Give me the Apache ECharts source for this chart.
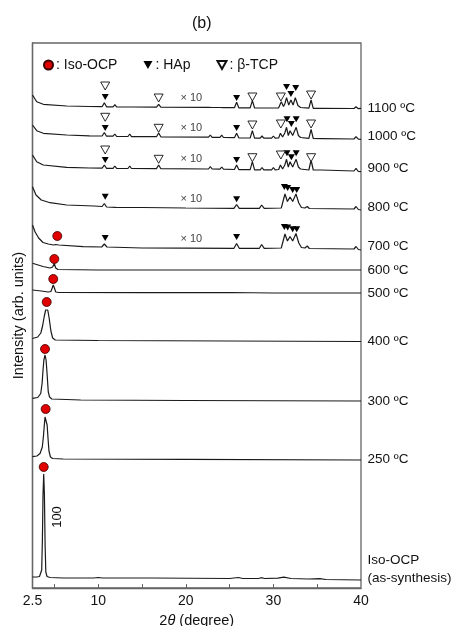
<!DOCTYPE html>
<html>
<head>
<meta charset="utf-8">
<script src="https://cdn.jsdelivr.net/npm/echarts@6/dist/echarts.min.js"></script>
<style>html,body{margin:0;padding:0;background:#fff}#c{width:460px;height:626px}</style>
</head>
<body>
<div id="c"></div>
<script>
// ---- Data (2θ in degree, intensity in arb. units incl. stacking offset) ----
var xTickLabels = [2.5, 10, 20, 30, 40];
var xMajorTicks = [10, 20, 30];
var xMinorTicks = [5, 15, 25, 35];

var traceIsoOCP = [[2.5,11],[3.0,11],[3.3,11.5],[3.45,13],[3.55,18],[3.63,48],[3.70,93],[3.78,114],[3.86,93],[3.94,43],[4.02,16],[4.16,11.5],[4.5,10.5],[6,10],[9.5,10],[10,10.5],[10.5,10],[16,10],[25,9.5],[26,10.5],[26.5,9.5],[28.3,9.5],[28.6,10.3],[29,9.5],[30.5,9.8],[31.2,10.8],[32,9.5],[34,9],[35.3,9.3],[36,8.5],[40,8]];
var trace250 = [[2.5,131.3],[3.0,132],[3.36,134.5],[3.62,141],[3.75,152],[3.85,163],[3.93,171],[4.01,173],[4.09,171],[4.17,163],[4.27,150],[4.38,137],[4.55,131],[4.8,129.5],[6,129],[20,128.7],[40,128]];
var trace300 = [[2.5,189.7],[3.1,190.5],[3.44,194.5],[3.6,205],[3.7,218],[3.8,228],[3.93,233],[4.05,228],[4.15,216],[4.3,196],[4.45,191],[4.7,189],[8,188],[20,187.5],[40,187]];
var trace400 = [[2.5,249.5],[3.1,251],[3.45,255],[3.65,262],[3.85,272],[4.0,278],[4.12,280],[4.24,278],[4.4,270],[4.6,257],[4.8,250],[5.1,248],[10,247.5],[40,246.5]];
var trace500 = [[2.5,298],[3.5,297],[4.3,296],[4.6,296.5],[4.75,300],[4.87,303],[5.0,300],[5.15,296],[5.5,295.5],[15,295.3],[25,295.5],[30,295],[40,295]];
var trace600 = [[2.5,324.7],[3.7,321.5],[4.5,320],[4.8,321],[4.99,324.5],[5.15,320],[5.4,318.5],[10,318],[40,318]];
var trace700 = [[2.5,363],[2.8,356],[3.2,350],[3.7,345.5],[4.3,344],[4.9,343],[5.15,343.5],[5.33,345],[5.5,343],[5.7,342],[8.3,341.3],[10.4,341],[10.7,344],[11.0,341],[15,340],[20,339.8],[25.5,339.7],[25.8,344.5],[26.1,339.7],[28.4,339.7],[28.66,343.5],[28.95,339.7],[30.9,340],[31.1,342],[31.32,354],[31.6,347],[31.9,351.5],[32.2,347],[32.58,354.5],[32.9,345],[33.2,340.5],[33.6,340],[33.87,342],[34.1,339.5],[39.2,339],[39.43,341.5],[39.7,338.5],[40,338]];
var trace800 = [[2.5,401.3],[2.9,393],[3.5,388],[4.5,385.3],[6.4,383],[9.5,382],[10.45,381.5],[10.7,384.5],[10.95,381],[12,380.7],[15,380.5],[20,380],[25.5,379.7],[25.8,383.5],[26.1,379.7],[28.4,379.7],[28.66,383],[28.95,379.7],[30.9,380],[31.1,382],[31.32,394],[31.6,386.5],[31.9,391],[32.2,386.5],[32.58,394],[32.9,385],[33.2,380.5],[33.6,380],[33.87,381.5],[34.1,379.5],[39.2,379],[39.43,381.5],[39.7,378.5],[40,378]];
var trace900 = [[2.5,433],[2.98,426.3],[3.73,423],[6.4,420.7],[9,420],[10.45,419.8],[10.7,423],[10.95,419.7],[11.7,419.7],[11.9,422],[12.1,419.6],[13.4,419.5],[13.6,422],[13.8,419.5],[16.65,419.4],[16.9,423],[17.15,419.3],[22.6,419],[22.8,421.5],[23,419],[23.9,418.8],[24.1,421],[24.3,418.8],[25.55,418.5],[25.8,423],[26.05,418.4],[27.35,418.3],[27.6,426.3],[27.85,418.2],[28.5,418.2],[28.7,420.5],[28.9,418.2],[29.8,418.2],[30.0,420.5],[30.2,418.2],[30.6,418.5],[30.8,423],[31.05,419],[31.3,423],[31.5,428.7],[31.7,421],[31.9,426.3],[32.2,421],[32.6,428.7],[32.85,421],[33.1,419],[34.05,418],[34.3,428],[34.55,418],[35.5,418],[39.2,417],[39.43,419.7],[39.7,416.5],[40,416.3]];
var trace1000 = [[2.5,463],[2.98,457.3],[3.73,454.7],[6.4,453],[9,452.2],[10.45,452],[10.7,455.5],[10.95,451.8],[11.7,451.8],[11.9,454],[12.1,451.7],[13.4,451.5],[13.6,454],[13.8,451.4],[16.65,451.3],[16.9,455],[17.15,451.2],[22.6,450.8],[22.8,453],[23,450.7],[23.9,450.6],[24.1,452.8],[24.3,450.5],[25.55,450.3],[25.8,454.7],[26.05,450.2],[27.35,450],[27.6,457.3],[27.85,449.9],[28.5,449.9],[28.7,452],[28.9,449.9],[29.8,449.8],[30.0,452],[30.2,449.8],[30.6,450],[30.8,454.7],[31.05,451],[31.3,455],[31.5,460.7],[31.7,452.5],[31.9,457.3],[32.2,452.5],[32.6,460.7],[32.85,452.5],[33.1,450.5],[34.05,449.6],[34.3,458.7],[34.55,449.5],[35.5,449.4],[39.2,449],[39.43,451.3],[39.7,448.8],[40,448.7]];
var trace1100 = [[2.5,493],[2.98,486.3],[3.73,483.7],[6.4,482],[9,481.5],[10.45,481.3],[10.7,485.3],[10.95,481.2],[11.7,481.2],[11.9,483.3],[12.1,481.1],[13.4,481],[13.6,483],[13.8,481],[16.65,480.9],[16.9,483.7],[17.15,480.8],[22.6,480.6],[22.8,482.5],[23,480.5],[23.9,480.5],[24.1,482.3],[24.3,480.4],[25.55,480.3],[25.8,485.7],[26.05,480.2],[27.35,480.1],[27.6,487.3],[27.85,480],[28.5,480],[28.7,482],[28.9,480],[29.8,480],[30.0,482],[30.2,480],[30.6,480.2],[30.9,486.3],[31.15,481.5],[31.3,484],[31.5,490.3],[31.75,483],[32.0,488],[32.25,483],[32.5,490.3],[32.8,482.5],[33.1,480.5],[34.05,479.8],[34.3,488],[34.55,479.7],[35.5,479.7],[39.2,479.5],[39.43,481.3],[39.7,479.3],[40,479.7]];

var traceNames = ['Iso-OCP\n(as-synthesis)','250 ºC','300 ºC','400 ºC','500 ºC','600 ºC','700 ºC','800 ºC','900 ºC','1000 ºC','1100 ºC'];
var traceLabelY = [19, 129, 187, 247, 295, 318, 342, 381, 420, 452, 480];

var isoOCPMarks = [[3.78,121],[4.0,179],[3.93,239],[4.12,286],[4.87,309],[4.99,329],[5.33,352]];
var hapMarks = [
  [10.8,491],[25.8,490],[31.5,501],[32.0,494],[32.55,500],
  [10.8,460],[25.8,460],[31.55,468.7],[32.05,464],[32.6,468.7],
  [10.8,428],[25.8,428],[31.55,434.7],[32.05,430.7],[32.6,434.7],
  [10.8,391.3],[25.8,388.7],[31.25,401],[31.63,400],[32.2,398],[32.66,398],
  [10.8,350],[25.8,351],[31.25,361],[31.63,360.5],[32.2,358.7],[32.66,358.7]
];
var tcpMarks = [
  [10.8,502],[16.9,490],[27.6,491],[30.85,491],[34.3,493],
  [10.8,470.7],[16.9,459.7],[27.6,463],[30.85,464],[34.3,464],
  [10.8,438],[16.9,428.7],[27.6,430.3],[30.85,433],[34.3,430.3]
];
var x10Marks = [[20.63,490.3],[20.63,459.7],[20.63,428.7],[20.63,389],[20.63,348.7]];
var millerMark = [[5.3,71]];

// ---- Chart ----
var FONT = 'Liberation Sans, Arial, sans-serif';
var traces = [traceIsoOCP, trace250, trace300, trace400, trace500, trace600, trace700, trace800, trace900, trace1000, trace1100];
var tri = 'path://M0,0L10,0L5,9Z';
var series = [];
traces.forEach(function(t){
  series.push({type:'line', data:t, showSymbol:false, symbol:'none', silent:true,
    lineStyle:{color:'#1a1a1a', width:1.2}, z:2});
});
function textSeries(data, label){
  return {type:'scatter', data:data, symbolSize:1, clip:false, silent:true, z:6,
    itemStyle:{color:'transparent', opacity:1}, label:label};
}
series.push(textSeries(traceLabelY.map(function(v,i){return {value:[40,v], name:traceNames[i]};}),
  {show:true, position:'right', distance:6, formatter:'{b}', fontSize:13.5, color:'#111', lineHeight:18, fontFamily:FONT, opacity:1}));
series.push(textSeries(x10Marks,
  {show:true, position:'inside', formatter:'× 10', fontSize:11, color:'#444', fontFamily:FONT, opacity:1}));
series.push(textSeries(millerMark,
  {show:true, position:'inside', formatter:'100', rotate:90, fontSize:13, color:'#111', fontFamily:FONT, opacity:1}));
series.push({type:'scatter', name:'Iso-OCP', data:isoOCPMarks, symbol:'circle', symbolSize:9, z:5, silent:true,
  itemStyle:{color:'#e00000', borderColor:'#3a0000', borderWidth:0.8, opacity:1}});
series.push({type:'scatter', name:'HAp', data:hapMarks, symbol:tri, symbolSize:[7,6], z:5, silent:true,
  itemStyle:{color:'#000', opacity:1}});
series.push({type:'scatter', name:'β-TCP', data:tcpMarks, symbol:tri, symbolSize:[9,8], z:5, silent:true,
  itemStyle:{color:'#fff', borderColor:'#111', borderWidth:0.9, opacity:1}});

var chart = echarts.init(document.getElementById('c'), null, {renderer:'canvas'});
chart.setOption({
  animation:false,
  backgroundColor:'#fff',
  textStyle:{fontFamily:FONT},
  title:{text:'(b)', left:187, top:11, textStyle:{fontSize:16, fontWeight:'normal', color:'#111', fontFamily:FONT}},
  legend:{
    left:38, top:53, itemWidth:9, itemHeight:9, itemGap:26, selectedMode:false,
    formatter:': {name}',
    textStyle:{fontSize:14, color:'#111', fontFamily:FONT, padding:[0,0,0,-2]},
    data:[{name:'Iso-OCP', icon:'circle'},{name:'HAp', icon:tri},{name:'β-TCP', icon:tri}]
  },
  grid:{left:32.5, right:99, top:43, bottom:38, containLabel:false, outerBoundsMode:'none',
    show:true, borderColor:'#666', borderWidth:1.3, backgroundColor:'transparent'},
  xAxis:{
    type:'value', min:2.5, max:40,
    name:'{a|2}{b|θ}{a| (degree)}', nameLocation:'middle', nameGap:25,
    nameTextStyle:{rich:{a:{fontSize:14.5, color:'#111', fontFamily:FONT}, b:{fontSize:14.5, fontStyle:'italic', color:'#111', fontFamily:FONT}}},
    axisLine:{show:true, lineStyle:{color:'#666', width:1.3}},
    axisTick:{show:true, inside:true, length:4, customValues:xMajorTicks.concat(xMinorTicks), lineStyle:{color:'#666'}},
    axisLabel:{customValues:xTickLabels, fontSize:14, color:'#111', margin:6, fontFamily:FONT},
    splitLine:{show:false}
  },
  yAxis:{
    type:'value', min:0, max:545,
    name:'Intensity (arb. units)', nameLocation:'middle', nameGap:6,
    nameTextStyle:{fontSize:14.5, color:'#111', fontFamily:FONT},
    axisLine:{show:true, lineStyle:{color:'#666', width:1.3}},
    axisTick:{show:false}, axisLabel:{show:false}, splitLine:{show:false}
  },
  series:series
});
</script>
</body>
</html>
